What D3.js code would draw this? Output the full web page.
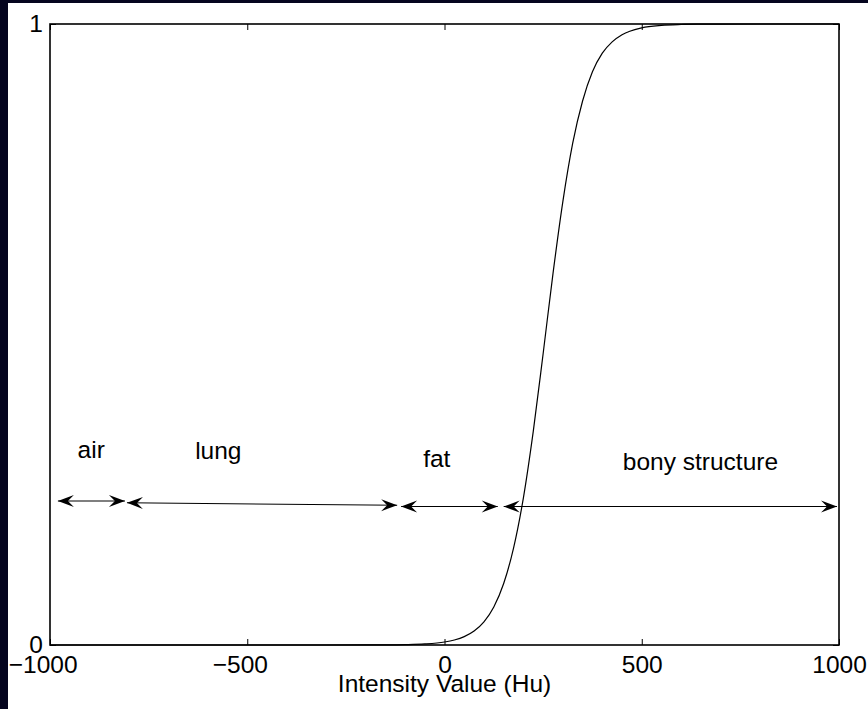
<!DOCTYPE html>
<html lang="en">
<head>
    <meta charset="UTF-8">
    <title>Intensity Value Mapping</title>
</head>

<style>

body {
    margin: 0;
    background: #05051f;
}

text {
    font-family: 'Liberation Sans', Arial, Helvetica, sans-serif;
    font-size: 24.5px;
    fill: #000;
}

.axis path.domain {
    display: none;
}

.axis line {
    stroke: #000;
    stroke-width: 1;
}

.frame {
    fill: none;
    stroke: #000;
    stroke-width: 1.6;
}

.curve {
    fill: none;
    stroke: #000;
    stroke-width: 1.2;
}

.range-line {
    stroke: #000;
    stroke-width: 1.1;
}

.head {
    fill: #000;
}

</style>

<body>
<svg height="709" width="868"></svg>

<script src="https://d3js.org/d3.v7.min.js"></script>

<script>

    // sigmoid (HU -> mapped value)
    var curveHU = [-1000, -800, -600, -400, -300, -200, -150, -100, -50, 0, 25, 50, 75, 100, 125, 150, 175,
        200, 225, 250, 275, 300, 325, 350, 375, 400, 425, 450, 500, 550, 600, 650, 700, 800, 1000];
    var curveValue = [0, 0, 0, 0, 0.00001, 0.0001, 0.0002, 0.0006, 0.0017, 0.0048, 0.0081, 0.0135, 0.0225, 0.0373,
        0.0612, 0.099, 0.156, 0.237, 0.344, 0.469, 0.598, 0.714, 0.808, 0.876, 0.923, 0.953, 0.9713, 0.9827,
        0.9938, 0.9978, 0.9992, 0.9997, 0.9999, 1, 1];

    // tissue ranges
    var regionNames = ["air", "lung", "fat", "bony structure"];
    var regionStart = [-980, -805, -110, 150];
    var regionEnd = [-810, -120, 135, 995];
    var regionStartLevel = [0.232, 0.229, 0.223, 0.223];
    var regionEndLevel = [0.232, 0.225, 0.223, 0.223];
    var labelHU = [-930, -632, -54, 452];
    var labelLevel = [0.301, 0.2995, 0.287, 0.281];

    var xTicks = [-1000, -500, 0, 500, 1000];
    var yTicks = [0, 1];
    var xTitle = "Intensity Value (Hu)";

    var translate = function(left, top) {
        return "translate(" + left + "," + top + ")";
    };

    var svg = d3.select("svg"),
        margins = {top: 24, right: 29, bottom: 64, left: 50};

    var graphWidth = +svg.attr("width") - margins.left - margins.right,
        graphHeight = +svg.attr("height") - margins.top - margins.bottom;

    // figure background
    svg.append("rect")
        .attr("x", 8)
        .attr("y", 3)
        .attr("width", +svg.attr("width") - 8)
        .attr("height", +svg.attr("height") - 3)
        .attr("fill", "#fff");

    var g = svg.append("g")
        .attr("transform", translate(margins.left, margins.top));

    var x = d3.scaleLinear().domain([-1000, 1000]).range([0, graphWidth]);
    var y = d3.scaleLinear().domain([0, 1]).range([graphHeight, 0]);

    var minusFormat = function(d) { return d < 0 ? "\u2212" + Math.abs(d) : d; };

    var bottomAxis = g.append("g")
        .attr("class", "axis")
        .attr("transform", translate(0, graphHeight))
        .call(d3.axisBottom(x).tickValues(xTicks).tickSize(-6).tickSizeOuter(0).tickPadding(11).tickFormat(minusFormat));

    // matlab centres the digits, the minus hangs left
    bottomAxis.selectAll("text")
        .attr("fill", "#000")
        .attr("dx", function(d) { return d < 0 ? "-0.3em" : 0; });

    g.append("g")
        .attr("class", "axis")
        .call(d3.axisTop(x).tickValues(xTicks).tickSize(-6).tickSizeOuter(0).tickFormat(""));

    g.append("g")
        .attr("class", "axis")
        .call(d3.axisLeft(y).tickValues(yTicks).tickSize(-6).tickSizeOuter(0).tickPadding(7).tickFormat(d3.format("d")))
        .selectAll("text")
        .attr("fill", "#000");

    g.append("g")
        .attr("class", "axis")
        .attr("transform", translate(graphWidth, 0))
        .call(d3.axisRight(y).tickValues(yTicks).tickSize(-6).tickSizeOuter(0).tickFormat(""));

    g.append("rect")
        .attr("class", "frame")
        .attr("width", graphWidth)
        .attr("height", graphHeight);

    g.append("text")
        .attr("x", graphWidth / 2)
        .attr("y", graphHeight + 47)
        .attr("text-anchor", "middle")
        .text(xTitle);

    var line = d3.line()
        .x(function(d, i) { return x(curveHU[i]); })
        .y(function(d) { return y(d); })
        .curve(d3.curveMonotoneX);

    g.append("path")
        .attr("class", "curve")
        .attr("d", line(curveValue));

    // double headed arrows
    var headLength = 16, headHalf = 6, notch = 6;
    var headPath = "M0,0L" + (-headLength) + "," + (-headHalf) + "L" + (-headLength + notch) + ",0L" +
        (-headLength) + "," + headHalf + "Z";

    var arrows = g.selectAll(".range")
        .data(regionNames)
        .enter()
        .append("g")
        .attr("class", "range");

    arrows.append("line")
        .attr("class", "range-line")
        .attr("x1", function(d, i) { return x(regionStart[i]); })
        .attr("y1", function(d, i) { return y(regionStartLevel[i]); })
        .attr("x2", function(d, i) { return x(regionEnd[i]); })
        .attr("y2", function(d, i) { return y(regionEndLevel[i]); });

    arrows.append("path")
        .attr("class", "head")
        .attr("d", headPath)
        .attr("transform", function(d, i) {
            var x1 = x(regionStart[i]), y1 = y(regionStartLevel[i]),
                x2 = x(regionEnd[i]), y2 = y(regionEndLevel[i]);
            var angle = Math.atan2(y2 - y1, x2 - x1) * 180 / Math.PI;
            return translate(x2, y2) + " rotate(" + angle + ")";
        });

    arrows.append("path")
        .attr("class", "head")
        .attr("d", headPath)
        .attr("transform", function(d, i) {
            var x1 = x(regionStart[i]), y1 = y(regionStartLevel[i]),
                x2 = x(regionEnd[i]), y2 = y(regionEndLevel[i]);
            var angle = Math.atan2(y1 - y2, x1 - x2) * 180 / Math.PI;
            return translate(x1, y1) + " rotate(" + angle + ")";
        });

    arrows.append("text")
        .attr("x", function(d, i) { return x(labelHU[i]); })
        .attr("y", function(d, i) { return y(labelLevel[i]); })
        .text(function(d) { return d; });

</script>
</body>

</html>
